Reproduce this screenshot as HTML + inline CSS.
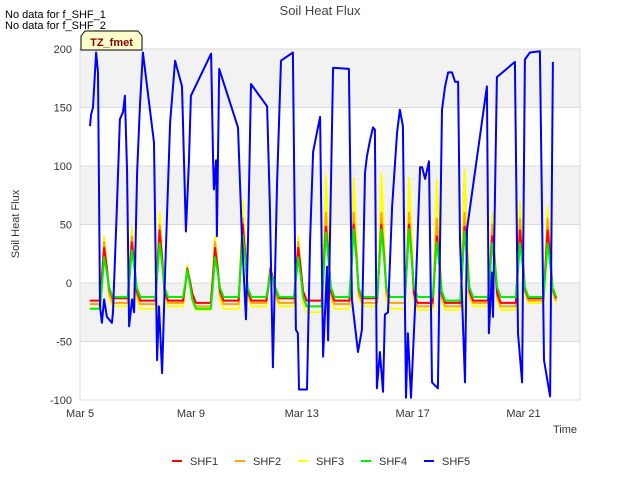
<!DOCTYPE html>
<html><head><meta charset="utf-8"><style>
body{margin:0;background:#fff;font-family:"Liberation Sans",sans-serif;}
svg text{font-family:"Liberation Sans",sans-serif;}
</style></head><body>
<svg id="chart" width="640" height="480" xmlns="http://www.w3.org/2000/svg">
<rect x="0" y="0" width="640" height="480" fill="#fff"/>
<g id="bands"></g>
<g id="grid"></g>
<g id="series"></g>
<g id="axes"></g>
<text x="320" y="15" text-anchor="middle" font-size="13" fill="#444">Soil Heat Flux</text>
<text x="5" y="18" font-size="11" fill="#000">No data for f_SHF_1</text>
<text x="5" y="29" font-size="11" fill="#000">No data for f_SHF_2</text>
<g>
<path d="M81,50 L81,36 L85,31 L138,31 L142,36 L142,50 Z" fill="#ffffcc" stroke="#000" stroke-width="1"/>
<text x="111.5" y="46" text-anchor="middle" font-size="11" font-weight="bold" fill="#8b0000">TZ_fmet</text>
</g>
<text transform="translate(19,224) rotate(-90)" text-anchor="middle" font-size="11" fill="#333">Soil Heat Flux</text>
<text x="565" y="433" text-anchor="middle" font-size="11" fill="#333">Time</text>
<g id="legend"></g>
</svg>
<script>
const yTicks=[200,150,100,50,0,-50,-100];
const xTickDays=[0,4,8,12,16];
const xTickLabels=["Mar 5","Mar 9","Mar 13","Mar 17","Mar 21"];
const seriesNames=["SHF1","SHF2","SHF3","SHF4","SHF5"];
const seriesColors=["#ff0000","#ffa500","#ffff00","#00ee00","#0000ff"];
// daily peak / base values (days starting Mar 5)
const shf1Peaks=[30,35,45,12,30,50,12,30,48,50,50,50,40,48,40,45,45];
const shf1Base=[-15,-13,-15,-15,-17,-15,-15,-13,-15,-15,-13,-12,-17,-17,-15,-17,-13];
const shf2Peaks=[35,40,50,13,35,55,13,35,60,60,60,60,55,60,50,55,55];
const shf2Base=[-18,-17,-18,-17,-20,-18,-17,-17,-20,-18,-17,-17,-20,-20,-17,-20,-15];
const shf3Peaks=[40,48,60,15,40,71,15,40,92,90,93,90,88,97,60,70,65];
const shf3Base=[-22,-20,-22,-20,-23,-22,-20,-20,-25,-22,-20,-22,-23,-23,-20,-23,-17];
const shf4Peaks=[22,28,34,11,22,41,9,22,43,46,46,46,35,44,34,34,34];
const shf4Base=[-22,-12,-12,-12,-22,-12,-12,-12,-20,-12,-12,-12,-12,-15,-12,-12,-12];
const shf5Days=[.36,.40,.47,.58,.65,.72,.79,.87,.97,1.15,1.19,1.33,1.44,1.55,1.62,1.70,1.77,1.88,1.95,2.06,2.16,2.27,2.67,2.78,2.85,2.96,3.07,3.25,3.43,3.68,3.82,3.93,4.00,4.73,4.80,4.83,4.91,4.94,5.02,5.70,5.84,5.99,6.06,6.17,6.75,6.85,6.96,7.11,7.25,7.68,7.79,7.86,7.90,8.19,8.30,8.41,8.55,8.66,8.73,8.77,8.91,8.95,9.13,9.70,9.81,9.92,10.03,10.17,10.28,10.35,10.46,10.57,10.64,10.71,10.82,10.93,11.00,11.11,11.26,11.44,11.54,11.65,11.76,11.83,11.94,12.09,12.27,12.34,12.45,12.59,12.70,12.91,13.06,13.17,13.28,13.42,13.53,13.64,13.71,13.89,13.96,14.68,14.75,14.86,14.90,15.04,15.69,15.80,15.95,16.05,16.23,16.59,16.74,16.96,17.06];
const shf5Values=[134,144,150,197,180,-20,-34,-14,-29,-34,-25,65,140,146,160,94,-37,-14,-25,94,151,197,120,-66,-20,-77,9,137,190,168,44,103,160,196,105,80,105,40,183,133,40,-31,37,170,151,65,-72,86,190,197,-40,-43,-91,-91,37,112,129,142,9,-63,14,-49,184,183,-14,-37,-59,-40,94,108,122,133,131,-90,-59,-93,-27,-25,65,129,148,134,-98,-43,-98,-20,99,99,89,104,-85,-90,148,168,180,180,172,172,37,-85,46,168,-43,9,-29,176,189,-43,-85,191,197,198,-66,-97,189];

const NS="http://www.w3.org/2000/svg";
const X0=80,X1=580,Y0=49,Y1=400;
const xs=d=>X0+d*27.72;
const ys=v=>Y1-(v+100)*(Y1-Y0)/300;
function mk(tag,attrs,parent){const e=document.createElementNS(NS,tag);for(const k in attrs)e.setAttribute(k,attrs[k]);parent.appendChild(e);return e;}
const bands=document.getElementById('bands'),grid=document.getElementById('grid'),ser=document.getElementById('series'),axes=document.getElementById('axes'),leg=document.getElementById('legend');
[[200,150],[100,50],[0,-50]].forEach(b=>{
 const r=mk('rect',{x:X0,y:ys(b[0]),width:X1-X0,height:ys(b[1])-ys(b[0]),fill:'#f2f2f2'},bands);
 
 
});
yTicks.forEach(v=>{
 const l=mk('line',{x1:X0,x2:X1,y1:ys(v),y2:ys(v),stroke:'#dcdcdc','stroke-width':1},grid);
 
 
 const t=mk('text',{x:72,y:ys(v)+4,'text-anchor':'end','font-size':11,fill:'#333'},axes);
 t.textContent=v;
 
 
});
xTickDays.forEach((d,i)=>{
 const t=mk('text',{x:xs(d),y:417,'text-anchor':'middle','font-size':11,fill:'#333'},axes);
 t.textContent=xTickLabels[i];
 
 
});
const fr=mk('rect',{x:X0,y:Y0,width:X1-X0,height:Y1-Y0,fill:'none',stroke:'#dcdcdc'},axes);


function daily(peaks,base){
 const pts=[[0.35,base[0]]];
 for(let k=0;k<peaks.length;k++){
  const b=base[k],nb=base[Math.min(k+1,base.length-1)];
  pts.push([k+0.72,b],[k+0.80,(b+peaks[k])/2],[k+0.87,peaks[k]],[k+0.97,(peaks[k]+nb)/2+4],[k+1.05,nb+8],[k+1.18,nb]);
 }
 return pts.filter(p=>p[0]<=17.35);
}
const all=[daily(shf1Peaks,shf1Base),daily(shf2Peaks,shf2Base),daily(shf3Peaks,shf3Base),daily(shf4Peaks,shf4Base),shf5Days.map((d,i)=>[d,shf5Values[i]])];
const order=[2,1,0,3,4];
order.forEach(i=>{
 const p=mk('path',{d:all[i].map((q,j)=>(j?'L':'M')+xs(q[0]).toFixed(1)+','+ys(q[1]).toFixed(1)).join(''),fill:'none',stroke:seriesColors[i],'stroke-width':2,'stroke-linejoin':'round'},ser);
 
 
});
const legX=[172,235,298,361,424];
seriesNames.forEach((n,i)=>{
 const g=mk('g',{},leg);
 
 
 mk('line',{x1:legX[i],x2:legX[i]+10,y1:461,y2:461,stroke:seriesColors[i],'stroke-width':2},g);
 const t=mk('text',{x:legX[i]+18,y:465,'font-size':11,fill:'#333'},g);
 t.textContent=n;
});
</script>
</body></html>
